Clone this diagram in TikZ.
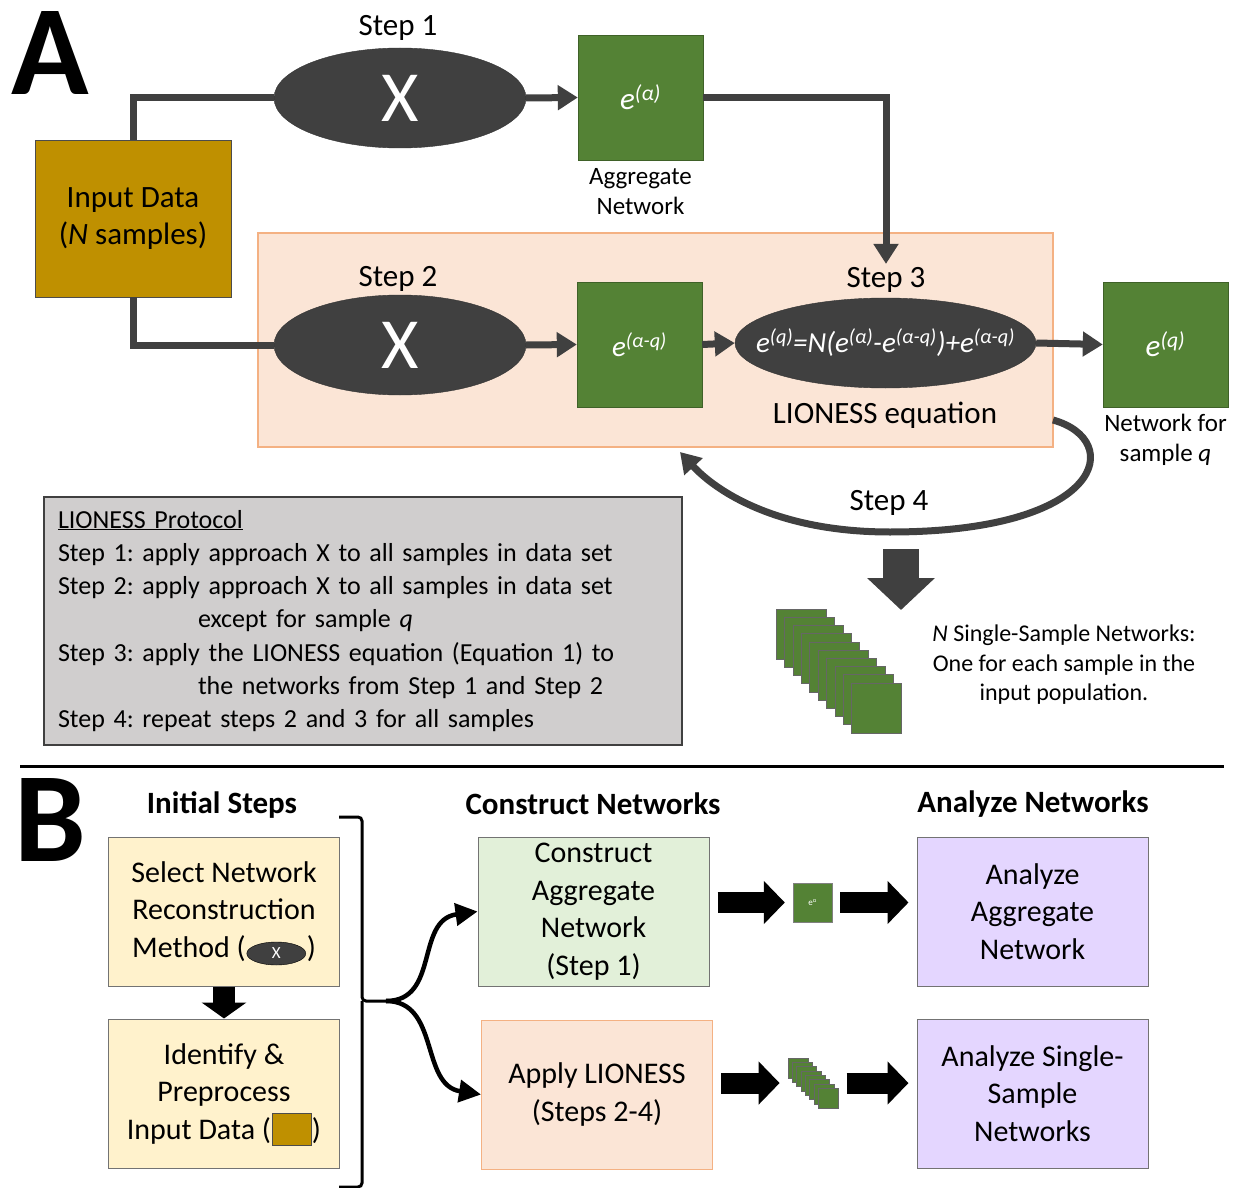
\documentclass[tikz,border=0pt]{standalone}
\usepackage{fontspec}
\setmainfont{Carlito}
\usetikzlibrary{shapes.geometric, arrows.meta, positioning, calc, fit}

\definecolor{netgreen}{HTML}{548235}
\definecolor{darkgr}{HTML}{404040}
\definecolor{inputgold}{HTML}{BF9000}
\definecolor{peach}{HTML}{FBE5D6}
\definecolor{peachline}{HTML}{F4B183}
\definecolor{protogray}{HTML}{D0CECE}
\definecolor{paleyellow}{HTML}{FFF2CC}
\definecolor{palegreen}{HTML}{E2F0D9}
\definecolor{palepurple}{HTML}{E4D6FF}

\newcommand{\fsize}[2]{\fontsize{#1}{#2}\selectfont}
\newcommand{\netsup}[1]{e\textsuperscript{(#1)}}
\newlength{\methw}
\newlength{\methtot}
\newlength{\dataw}
\newlength{\datatot}

\begin{document}
\frenchspacing
% widths used to put the small symbols inside the text lines
\settowidth{\methw}{\fsize{30}{37.5}Method (}
\settowidth{\methtot}{\fsize{30}{37.5}Method (\hspace{61pt})}
\settowidth{\dataw}{\fsize{30}{37.5}Input Data (}
\settowidth{\datatot}{\fsize{30}{37.5}Input Data (\hspace{41pt})}
\begin{tikzpicture}[x=1pt, y=-1pt,
    netbox/.style={rectangle, fill=netgreen, draw=netgreen!75!black, minimum size=125pt, inner sep=0pt, text=white, font=\fsize{31}{30}\itshape},
    method/.style={ellipse, fill=darkgr, draw=black!80, minimum width=252pt, minimum height=100pt, inner sep=0pt, text=white, font=\fsize{72}{72}},
    flow/.style={draw=darkgr, line width=7pt, -{Triangle[length=20pt,width=24pt]}},
    wire/.style={draw=darkgr, line width=7pt},
    steplabel/.style={font=\fsize{31}{30}},
    caption/.style={align=center, font=\fsize{25}{30}},
    bigletter/.style={font=\fsize{128}{128}\bfseries},
    header/.style={font=\fsize{31}{30}\bfseries},
    stagebox/.style={rectangle, draw=black!55, line width=1pt, minimum width=231pt, minimum height=149pt, align=center, font=\fsize{30}{37.5}},
    stacksq/.style={rectangle, fill=netgreen, draw=black!60, minimum size=50pt, inner sep=0pt},
    minisq/.style={rectangle, fill=netgreen, draw=black!60, minimum size=20pt, inner sep=0pt},
    blockarrow/.style={draw=black, line width=21pt, -{Triangle[length=21pt,width=42pt]}, shorten <=8pt, shorten >=8pt},
    branch/.style={draw=black, line width=4.5pt, -{Triangle[length=22pt,width=22pt]}}
  ]
    \useasboundingbox (0,0) rectangle (1235,1188);

    % ---------------- Panel A ----------------
    \node[bigletter] (letA) at (50,53) {A};

    % shaded area for steps 2-3
    \node[rectangle, fill=peach, draw=peachline, line width=1.2pt, minimum width=795pt, minimum height=214pt] (panel) at (655.5,340) {};

    % input data
    \node[rectangle, fill=inputgold, draw=black!70, minimum width=196pt, minimum height=157pt, align=center, font=\fsize{31}{37}] (input) at (133,218.5) {Input Data\\(\textit{N} samples)};

    % Step 1
    \node[steplabel] (s1lbl) at (398,28) {Step 1};
    \node[method] (x1) at (400,98) {X};
    \node[netbox] (ea) at (640.5,97.5) {\netsup{α}};
    \node[caption, below=5pt of ea] (ealbl) {Aggregate\\Network};

    % Step 2
    \node[steplabel] (s2lbl) at (398,279) {Step 2};
    \node[method] (x2) at (400,345) {X};
    \node[netbox, font=\fsize{29}{30}\itshape] (eaq) at (639.5,344.5) {\netsup{α-q}};

    % Step 3
    \node[steplabel] (s3lbl) at (886,280) {Step 3};
    \node[method, minimum width=301pt, minimum height=90pt] (lion) at (885.5,343) {};
    \node[text=white, font=\fsize{29}{30}\itshape] (lioneq) at (lion.center) {\netsup{q}=N(\netsup{α}-\netsup{α-q})+\netsup{α-q}};
    \node[font=\fsize{31}{30}] (lionlbl) at (885,415) {LIONESS equation};
    \node[netbox] (eq) at (1165.5,344.5) {\netsup{q}};
    \node[caption, below=3pt of eq] (eqlbl) {Network for\\sample \textit{q}};

    % connectors
    \draw[wire] (input.north) |- (x1.west);
    \draw[wire] (input.south) |- (x2.west);
    \draw[flow] (x1.east) -- (ea.west);
    \draw[flow] (ea.east) -| (s3lbl.north);
    \draw[flow] (x2.east) -- (eaq.west);
    \draw[flow] (eaq.east) -- (lion.west);
    \draw[flow] (lion.east) -- (eq.west);

    % Step 4 loop back
    \node[steplabel] (s4lbl) at (889,503) {Step 4};
    \coordinate (s4from) at (1053,420);
    \coordinate (s4to) at (680,452);
    \draw[flow] (s4from) .. controls (1125,440) and (1105,532) .. (890,532) .. controls (775,532) and (715,490) .. (s4to);

    % resulting single-sample networks
    \coordinate (dnfrom) at (901,549);
    \coordinate (dnto) at (901,610);
    \draw[draw=darkgr, line width=36pt, -{Triangle[length=32pt,width=66pt]}] (dnfrom) -- (dnto);
    \foreach \i in {0,...,9}
      \node[stacksq] (sq\i) at (801+8.4*\i, 634+8.2*\i) {};
    \node[align=center, font=\fsize{24}{29.5}] (stacklbl) at (1064,665) {\textit{N} Single-Sample Networks:\\One for each sample in the\\input population.};

    % protocol summary
    \node[rectangle, fill=protogray, draw=darkgr, line width=1.2pt, minimum width=638pt, minimum height=248pt, text width=610pt, align=left, font=\fsize{26}{33.3}] (proto) at (363,621) {%
      \underline{LIONESS Protocol}\\
      Step 1: apply approach X to all samples in data set\\
      Step 2: apply approach X to all samples in data set\\
      \hspace*{140pt}except for sample \textit{q}\\
      Step 3: apply the LIONESS equation (Equation 1) to\\
      \hspace*{140pt}the networks from Step 1 and Step 2\\
      Step 4: repeat steps 2 and 3 for all samples};

    % separator
    \draw[line width=3pt] (20,766) -- (1224,766);

    % ---------------- Panel B ----------------
    \node[bigletter] (letB) at (50,820) {B};
    \node[header] (h1) at (222,805) {Initial Steps};
    \node[header] (h2) at (593,804) {Construct Networks};
    \node[header] (h3) at (1033,804) {Analyze Networks};

    \node[stagebox, fill=paleyellow] (select) at (224,911.5) {Select Network\\Reconstruction\\Method (\hspace{61pt})};
    \node[stagebox, fill=paleyellow] (identify) at (224,1093.5) {Identify \&\\Preprocess\\Input Data (\hspace{41pt})};
    \node[ellipse, fill=darkgr, draw=black, minimum width=59pt, minimum height=23pt, inner sep=0pt, text=white, font=\fsize{17}{17}] (minix) at ($(select.center)+(-0.5*\methtot+\methw+30.5pt,-42pt)$) {X};
    \node[rectangle, fill=inputgold, draw=black!70, minimum width=39pt, minimum height=32pt, inner sep=0pt] (minidata) at ($(identify.center)+(-0.5*\datatot+\dataw+20.5pt,-36pt)$) {};
    \draw[line width=22pt, -{Triangle[length=16pt,width=44pt]}] (select.south) -- (identify.north);

    \node[stagebox, fill=palegreen] (construct) at (593.5,911.5) {Construct\\Aggregate\\Network\\(Step 1)};
    \node[stagebox, fill=peach, draw=peachline] (apply) at (597,1094.5) {Apply LIONESS\\(Steps 2-4)};
    \node[stagebox, fill=palepurple] (anagg) at (1032.5,911.5) {Analyze\\Aggregate\\Network};
    \node[stagebox, fill=palepurple] (anss) at (1032.5,1093.5) {Analyze Single-\\Sample\\Networks};

    % brace and branches
    \coordinate (brtop) at (339,817);
    \coordinate (brbot) at (339,1187);
    \coordinate (brmid) at (386,1001);
    \draw[line width=3pt, rounded corners=4pt] (brtop) -| (362,1001) -- (brmid);
    \draw[line width=3pt, rounded corners=4pt] (brbot) -| (362,1001);
    \draw[branch] (brmid) .. controls (440,1001) and (415,920) .. (construct.west);
    \draw[branch] (brmid) .. controls (440,1001) and (420,1085) .. (apply.west);

    % outputs
    \node[rectangle, fill=netgreen, draw=black!50, minimum size=39pt, inner sep=0pt, text=white, font=\fsize{9}{9}] (esmall) at (812.5,902.5) {e\textsuperscript{α}};
    \foreach \i in {0,...,7}
      \node[minisq] (msq\i) at (798+4.3*\i, 1068+4.3*\i) {};
    \node[fit=(msq0)(msq7), inner sep=0pt] (stackB) {};

    \draw[blockarrow] (construct.east |- esmall.west) -- (esmall.west);
    \draw[blockarrow] (esmall.east) -- (esmall.east -| anagg.west);
    \draw[blockarrow] (apply.east |- stackB.west) -- (stackB.west);
    \draw[blockarrow] (stackB.east) -- (stackB.east -| anss.west);
  \end{tikzpicture}
\end{document}
